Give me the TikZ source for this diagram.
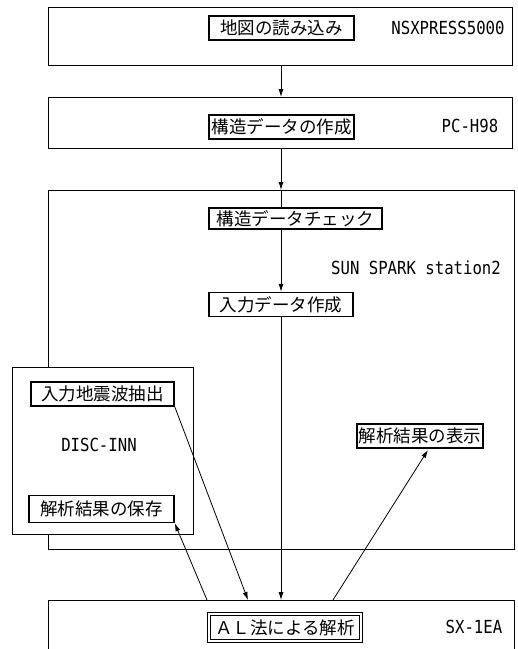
\documentclass[tikz,border=0pt]{standalone}
\usepackage{fontspec}
\newfontfamily\jp{Noto Sans CJK JP}
\newfontfamily\lat[FakeStretch=0.87]{DejaVu Sans Mono}
\usetikzlibrary{arrows.meta,calc}
\begin{document}
\begin{tikzpicture}[x=1pt,y=-1pt,
  cont/.style={draw,line width=0.8pt,inner sep=0pt,anchor=north west},
  proc/.style={draw,line width=1.5pt,inner sep=0pt,font=\jp\fontsize{17.5}{17.5}\selectfont,minimum height=24pt},
  lbl/.style={font=\lat\fontsize{18}{18}\selectfont,inner sep=0pt},
  arr/.style={line width=0.8pt,-{Latex[length=8pt,width=5pt]}}]
\useasboundingbox (0,0) rectangle (518,649);
% containers
\node[cont,minimum width=464pt,minimum height=58pt] (c1) at (48,7) {};
\node[cont,minimum width=464pt,minimum height=51pt] (c2) at (48,97) {};
\node[cont,minimum width=466pt,minimum height=359pt] (c3) at (48,190) {};
\node[cont,fill=white,minimum width=181pt,minimum height=167pt] (c4) at (12,367) {};
\node[cont,minimum width=466pt,minimum height=70pt] (c5) at (48,600) {};
% process boxes
\node[proc,minimum width=145pt] (rd) at (281.5,28) {地図の読み込み};
\node[proc,minimum width=145pt] (cr) at (281.5,127) {構造データの作成};
\node[proc,minimum width=173pt,minimum height=21pt] (ck) at (295.5,218.5) {構造データチェック};
\node[proc,minimum width=144pt] (in) at (281,304.5) {入力データ作成};
\node[proc,minimum width=143pt] (qk) at (102.5,394) {入力地震波抽出};
\node[proc,minimum width=145pt,minimum height=27pt] (sv) at (101.5,509) {解析結果の保存};
\node[proc,minimum width=126pt] (sh) at (420,436) {解析結果の表示};
\node[proc,line width=0.8pt,double,double distance=1.5pt,minimum width=152pt,minimum height=27pt] (al) at (285,627.5) {ＡＬ法による解析};
% labels
\node[lbl] (l1) at (448,28) {NSXPRESS5000};
\node[lbl] (l2) at (470,126) {PC-H98};
\node[lbl] (l3) at (416,268) {SUN SPARK station2};
\node[lbl] (l4) at (99,445) {DISC-INN};
\node[lbl] (l5) at (474,627) {SX-1EA};
% connectors
\coordinate (a1) at (248,600);
\coordinate (a2) at (207,600);
\coordinate (a3) at (333,600);
\coordinate (t3) at (428,450);
\draw[arr] (c1.south -| in) -- (c2.north -| in);
\draw[arr] (c2.south -| in) -- (c3.north -| in);
\draw (c3.north -| in) -- (ck.north -| in);
\draw[arr] (ck.south -| in) -- (in.north);
\draw[arr] (in.south) -- (in.south |- c5.north);
\draw[arr] (qk.south east) -- (a1);
\draw[arr] (a2) -- (sv.south east);
\draw[arr] (a3) -- (t3);
\end{tikzpicture}
\end{document}
